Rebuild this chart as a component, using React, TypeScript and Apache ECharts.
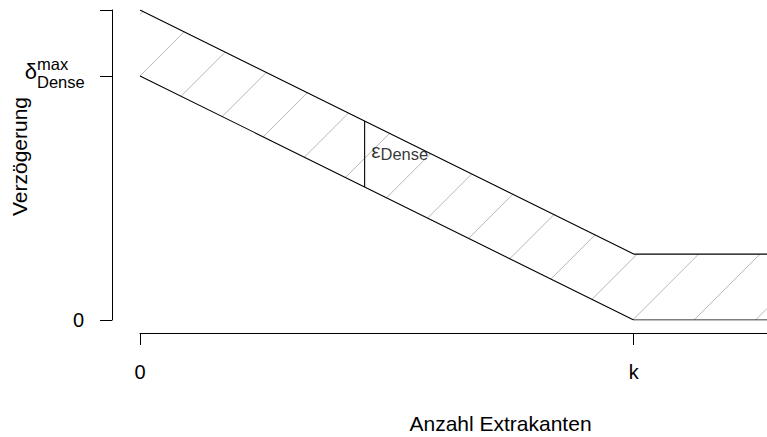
import React, { useEffect, useRef } from "react";
import * as echarts from "echarts";

// Schematic: delay bound as a function of the number of extra edges
const K = 1; // position of "k" on the x axis
const X_END = 1.27; // right end of the drawn x range
const DELTA_MAX = 1; // δ^max_Dense
const EPSILON = 0.27; // ε_Dense, vertical width of the band
const Y_TOP = DELTA_MAX + EPSILON;

const lowerX = [0, K, X_END];
const lowerY = [DELTA_MAX, 0, 0];
const upperX = [0, K, X_END];
const upperY = [DELTA_MAX + EPSILON, EPSILON, EPSILON];

const epsilonAt = 0.455; // x where the ε bracket is drawn

const xTickValues = [0, K];
const xTickLabels = ["0", "k"];
const yTickValues = [0, DELTA_MAX, Y_TOP];
const yLabelValues = [0, DELTA_MAX];

const FONT = "'Liberation Sans', Arial, Helvetica, sans-serif";
const HATCH_STEP = 61.4; // spacing of the 45° hatch lines, measured along x + y (px)

function valueAt(xs: number[], ys: number[], x: number): number {
  for (let i = 0; i < xs.length - 1; i++) {
    if (x >= xs[i] && x <= xs[i + 1]) {
      const t = (x - xs[i]) / (xs[i + 1] - xs[i]);
      return ys[i] + t * (ys[i + 1] - ys[i]);
    }
  }
  return ys[ys.length - 1];
}

const epsLow = valueAt(lowerX, lowerY, epsilonAt);
const epsHigh = valueAt(upperX, upperY, epsilonAt);

// x (px) where the line x + y = c meets a pixel polyline
function crossing(pts: number[][], c: number): number {
  const fs = pts.map((p) => p[0] + p[1]);
  if (c < fs[0]) return -Infinity;
  for (let i = 0; i < pts.length - 1; i++) {
    if (c >= fs[i] && c <= fs[i + 1]) {
      const t = (c - fs[i]) / (fs[i + 1] - fs[i]);
      return pts[i][0] + t * (pts[i + 1][0] - pts[i][0]);
    }
  }
  return Infinity;
}

function renderHatch(_params: any, api: any) {
  const L = lowerX.map((x, i) => api.coord([x, lowerY[i]]));
  const U = upperX.map((x, i) => api.coord([x, upperY[i]]));
  const x0 = L[0][0];
  const xN = L[L.length - 1][0];
  const c0 = L[0][0] + L[0][1];
  const cMin = U[0][0] + U[0][1];
  const cMax = L[L.length - 1][0] + L[L.length - 1][1];
  const nMin = Math.ceil((cMin - c0) / HATCH_STEP);
  const nMax = Math.floor((cMax - c0) / HATCH_STEP);
  const children: any[] = [];
  for (let n = nMin; n <= nMax; n++) {
    const c = c0 + n * HATCH_STEP;
    const xs = Math.max(x0, crossing(L, c));
    const xe = Math.min(xN, crossing(U, c));
    if (xe > xs) {
      children.push({
        type: "line",
        shape: { x1: xs, y1: c - xs, x2: xe, y2: c - xe },
        style: { stroke: "#b8b8b8", lineWidth: 1 },
      });
    }
  }
  return { type: "group", children };
}

export default function App() {
  const ref = useRef<HTMLDivElement>(null);

  useEffect(() => {
    if (!ref.current) return;
    const chart = echarts.init(ref.current, null, { renderer: "svg" });
    const lineStyle = { color: "#000", width: 1.1 };
    chart.setOption({
      animation: false,
      backgroundColor: "#fff",
      textStyle: { fontFamily: FONT, color: "#000" },
      grid: { left: 140, right: 0, top: 10, bottom: 117, containLabel: false, outerBoundsMode: "none" },
      xAxis: {
        type: "value",
        min: 0,
        max: X_END,
        offset: 13,
        name: "Anzahl Extrakanten",
        nameLocation: "middle",
        nameGap: 80,
        nameMoveOverlap: false,
        nameTextStyle: { fontSize: 21, fontFamily: FONT, color: "#000", padding: [0, 0, 0, 94] },
        axisLine: { show: true, onZero: false, lineStyle: { color: "#000", width: 1 } },
        axisTick: { show: true, customValues: xTickValues, length: 12, lineStyle: { color: "#000" } },
        axisLabel: {
          customValues: xTickValues,
          margin: 29,
          fontSize: 20,
          fontFamily: FONT,
          color: "#000",
          formatter: (v: number) => xTickLabels[xTickValues.indexOf(v)] ?? "",
        },
        splitLine: { show: false },
      },
      yAxis: [
        {
          type: "value",
          min: 0,
          max: Y_TOP,
          offset: 28,
          position: "left",
          name: "Verzögerung",
          nameLocation: "middle",
          nameGap: 82,
          nameRotate: 90,
          nameMoveOverlap: false,
          nameTextStyle: { fontSize: 21, fontFamily: FONT, color: "#000", padding: [0, 0, 0, 17] },
          axisLine: { show: true, onZero: false, lineStyle: { color: "#000", width: 1 } },
          axisTick: { show: true, customValues: yTickValues, length: 12, lineStyle: { color: "#000" } },
          axisLabel: {
            customValues: yLabelValues,
            margin: 28,
            fontSize: 20,
            fontFamily: FONT,
            color: "#000",
            formatter: (v: number) => (v === 0 ? "0" : "{d|δ}"),
            rich: {
              d: { fontSize: 22, fontFamily: FONT, color: "#000", padding: [0, 47, 8, 0] },
            },
          },
          splitLine: { show: false },
        },
        {
          type: "value",
          min: 0,
          max: Y_TOP,
          offset: 28,
          position: "left",
          axisLine: { show: false, onZero: false },
          axisTick: { show: false },
          splitLine: { show: false },
          axisLabel: {
            customValues: [DELTA_MAX],
            margin: 75,
            align: "left",
            padding: [0, 0, 5, 0],
            formatter: () => "{a|max}\n{b|Dense}",
            rich: {
              a: { fontSize: 16.5, lineHeight: 18, fontFamily: FONT, color: "#000" },
              b: { fontSize: 16.5, lineHeight: 18, fontFamily: FONT, color: "#000" },
            },
          },
        },
      ],
      series: [
        {
          type: "custom",
          silent: true,
          z: 1,
          renderItem: renderHatch,
          data: [0],
        },
        {
          type: "line",
          silent: true,
          z: 3,
          showSymbol: false,
          lineStyle,
          data: upperX.map((x, i) => [x, upperY[i]]),
        },
        {
          type: "line",
          silent: true,
          z: 3,
          showSymbol: false,
          lineStyle,
          data: lowerX.map((x, i) => [x, lowerY[i]]),
        },
        {
          type: "line",
          silent: true,
          z: 3,
          showSymbol: false,
          lineStyle,
          data: [
            [epsilonAt, epsLow],
            [epsilonAt, epsHigh],
          ],
        },
        {
          type: "scatter",
          silent: true,
          z: 4,
          symbolSize: 1,
          itemStyle: { color: "rgba(0,0,0,0)" },
          data: [[epsilonAt, (epsLow + epsHigh) / 2]],
          label: {
            show: true,
            position: "right",
            distance: 6,
            offset: [0, -4],
            formatter: "{e|ε}{s|Dense}",
            rich: {
              e: { fontSize: 21, lineHeight: 24, fontFamily: FONT, color: "#000" },
              s: { fontSize: 16.5, lineHeight: 16, verticalAlign: "bottom", fontFamily: FONT, color: "#000" },
            },
          },
        },
      ],
    });
    return () => chart.dispose();
  }, []);

  return (
    <div
      ref={ref}
      style={{ position: "fixed", left: 0, top: 0, width: 767, height: 437, background: "#fff" }}
    />
  );
}
